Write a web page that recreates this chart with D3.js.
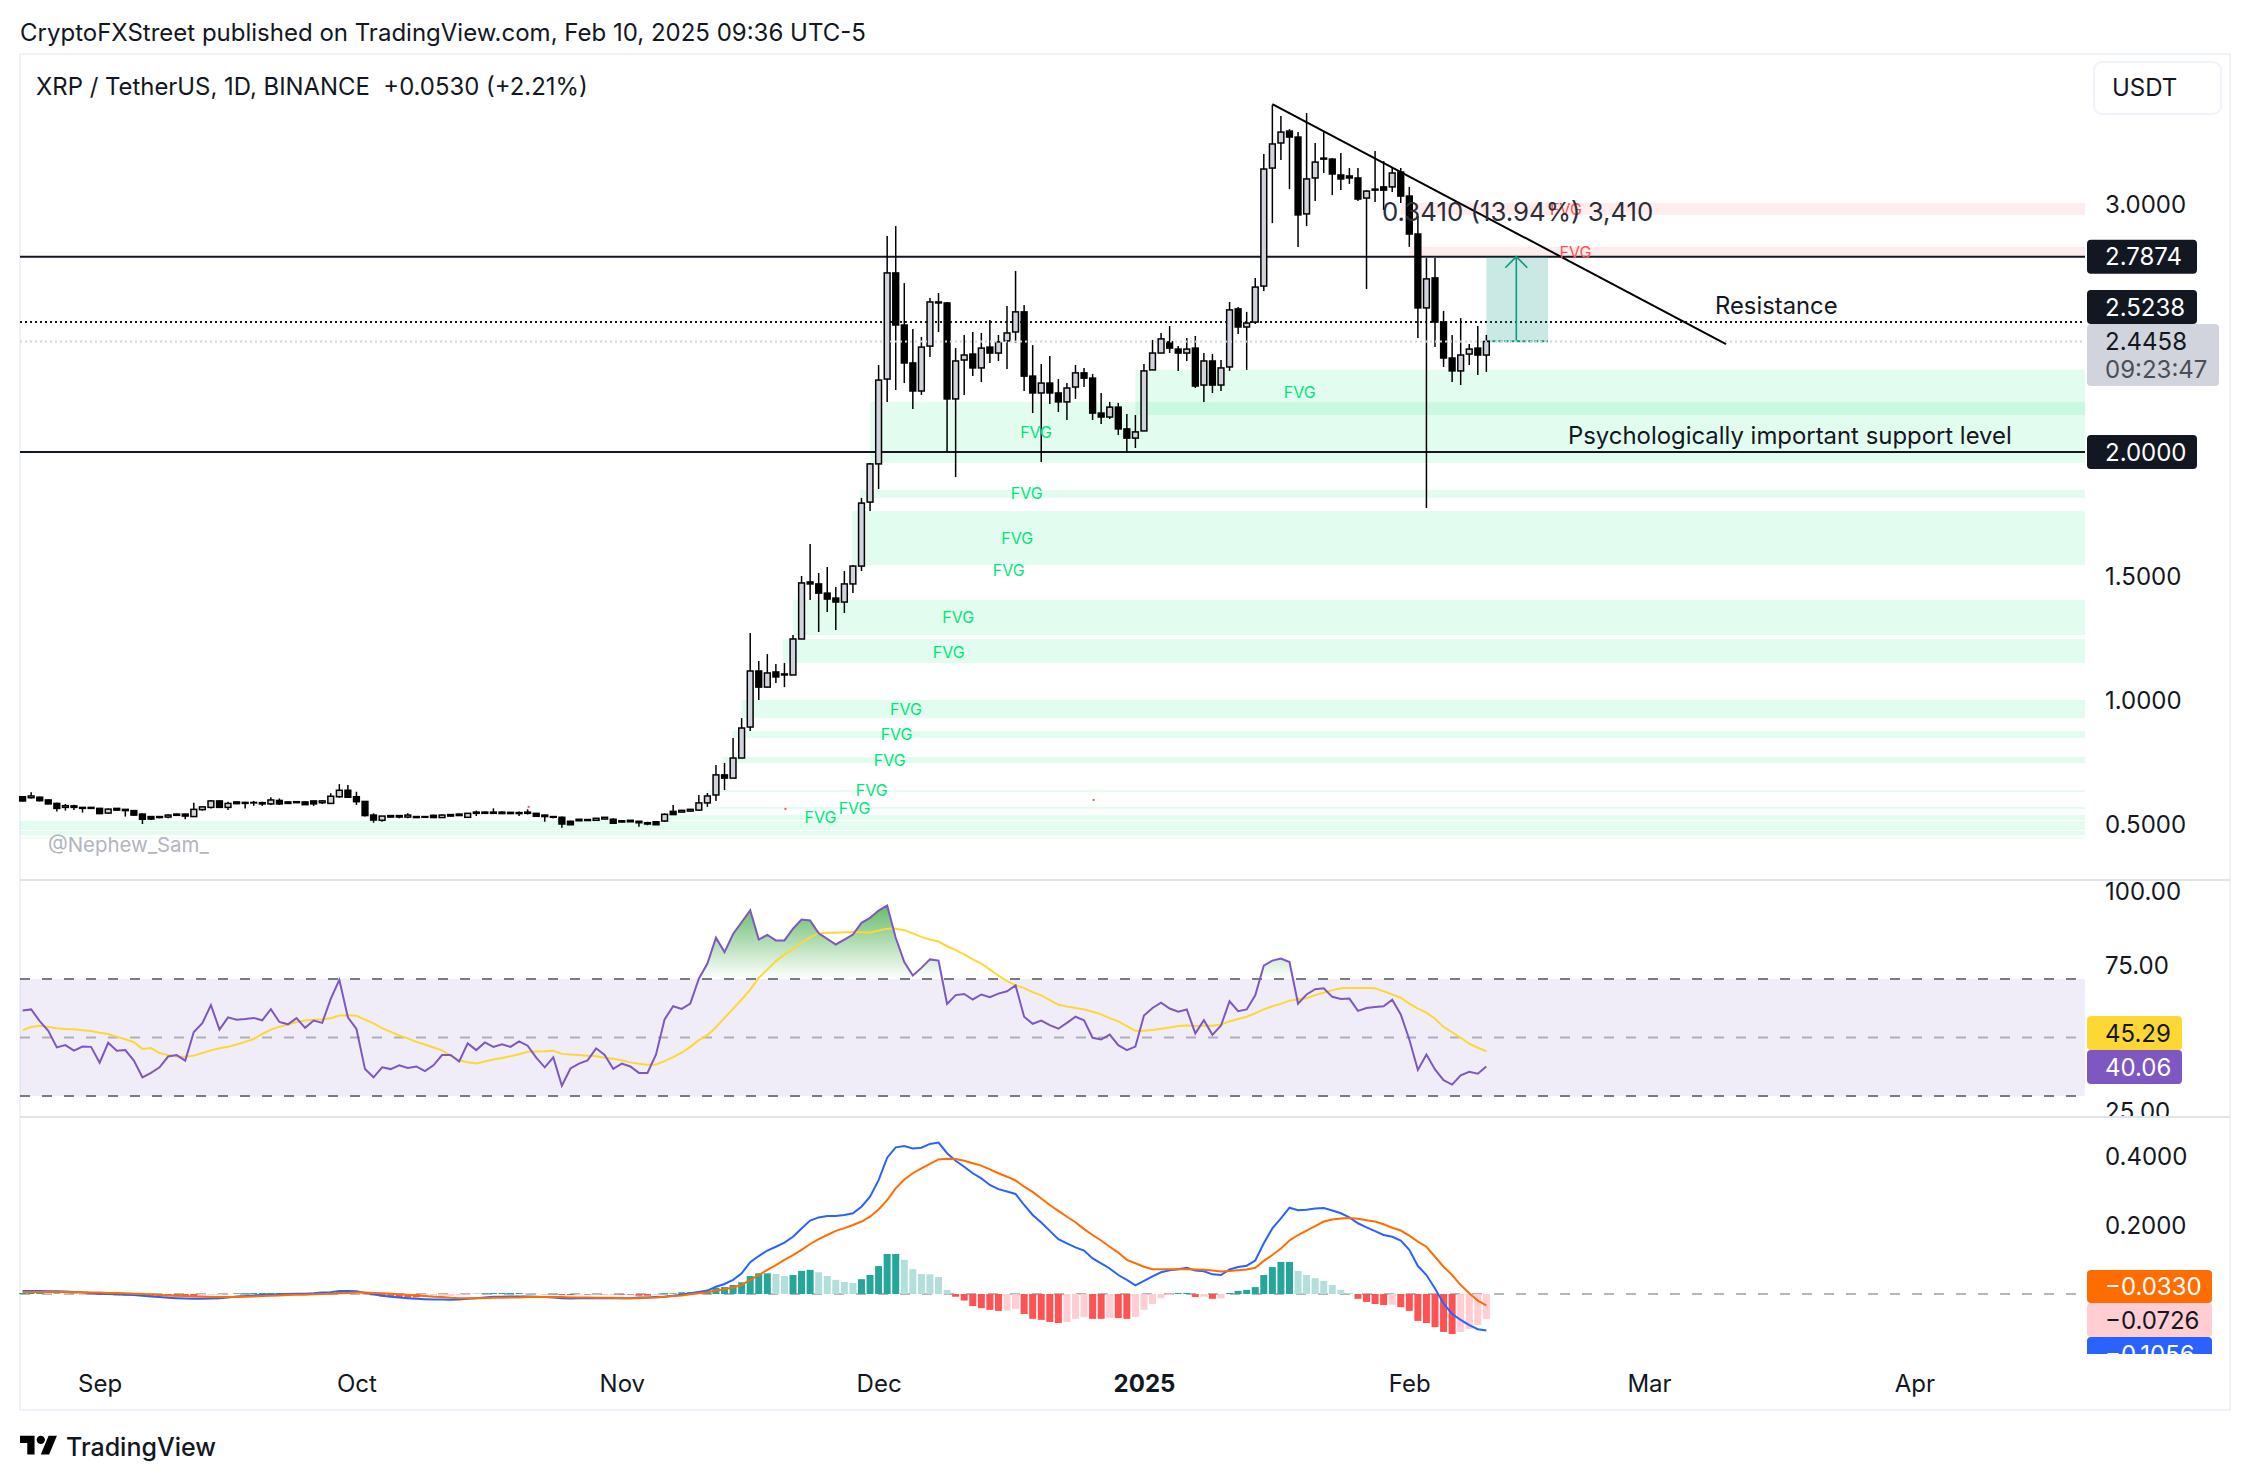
<!DOCTYPE html>
<html>
<head>
<meta charset="utf-8">
<script src="https://cdn.jsdelivr.net/npm/d3@7"></script>
<style>
  html, body { margin: 0; padding: 0; background: #fff; }
  svg { display: block; }
  text { font-family: Inter, "Noto Sans", sans-serif; }
</style>
</head>
<body>
<svg id="chart" width="2250" height="1480"></svg>
<script>
// daily candles, 23 Aug 2024 to 10 Feb 2025
const firstDay = new Date(Date.UTC(2024, 7, 23));
const opens = [
  .610,.606,.608,.597,.583,.567,.573,.567,.563,.563,
  .544,.563,.559,.554,.540,.530,.526,.528,.540,.540,
  .530,.558,.567,.593,.567,.589,.587,.585,.586,.581,
  .595,.589,.586,.589,.593,.586,.583,.610,.636,.610,
  .591,.536,.515,.528,.534,.528,.530,.527,.535,.526,
  .532,.540,.527,.543,.548,.543,.548,.547,.542,.543,
  .543,.536,.530,.527,.511,.513,.514,.515,.520,.519,
  .508,.515,.511,.505,.509,.512,.551,.548,.552,.556,
  .585,.617,.698,.685,.766,.891,1.117,1.052,1.113,1.105,
  1.101,1.246,1.476,1.468,1.431,1.411,1.395,1.468,1.540,1.798,
  1.952,2.294,2.722,2.512,2.359,2.246,2.427,2.605,2.601,2.214,
  2.371,2.395,2.339,2.423,2.399,2.448,2.484,2.565,2.306,2.238,
  2.278,2.238,2.202,2.262,2.319,2.298,2.157,2.141,2.181,2.093,
  2.056,2.085,2.331,2.399,2.444,2.415,2.399,2.419,2.270,2.367,
  2.270,2.343,2.577,2.504,2.524,2.669,3.145,3.246,3.294,3.270,
  2.960,3.105,3.181,3.181,3.117,3.113,3.105,3.024,3.056,3.069,
  3.069,3.129,3.032,2.879,2.581,2.702,2.524,2.379,2.327,2.395,2.419,2.391
];
const closes = [
  .593,.613,.594,.581,.563,.574,.567,.563,.567,.542,
  .560,.556,.554,.536,.519,.520,.530,.536,.535,.532,
  .559,.569,.593,.567,.583,.582,.583,.587,.581,.597,
  .581,.583,.590,.578,.581,.593,.612,.636,.608,.590,
  .534,.516,.532,.534,.528,.536,.526,.530,.526,.536,
  .538,.534,.543,.548,.543,.548,.542,.542,.546,.548,
  .531,.530,.527,.500,.497,.519,.518,.523,.527,.503,
  .513,.509,.505,.500,.497,.539,.538,.555,.559,.585,
  .613,.698,.685,.766,.887,1.117,1.052,1.109,1.093,1.101,
  1.246,1.472,1.468,1.431,1.407,1.395,1.468,1.540,1.794,1.952,
  2.290,2.722,2.512,2.359,2.246,2.423,2.605,2.601,2.214,2.367,
  2.391,2.339,2.419,2.399,2.444,2.480,2.565,2.306,2.238,2.278,
  2.238,2.202,2.258,2.319,2.298,2.157,2.141,2.181,2.093,2.056,
  2.081,2.327,2.399,2.456,2.419,2.399,2.415,2.266,2.367,2.270,
  2.339,2.573,2.504,2.520,2.665,3.141,3.242,3.290,3.270,2.956,
  3.101,3.169,3.185,3.121,3.101,3.105,3.020,3.052,3.060,3.056,
  3.125,3.032,2.879,2.581,2.698,2.524,2.379,2.327,2.391,2.415,2.391,2.4458
];
const highs = [
  .613,.628,.610,.599,.586,.581,.578,.567,.567,.565,
  .562,.565,.560,.556,.543,.532,.531,.539,.542,.541,
  .586,.570,.597,.595,.590,.591,.590,.593,.590,.608,
  .603,.591,.591,.591,.594,.597,.624,.661,.657,.630,
  .593,.543,.532,.536,.536,.543,.531,.531,.537,.538,
  .539,.542,.544,.554,.550,.563,.550,.548,.550,.559,
  .544,.537,.532,.530,.513,.520,.520,.524,.528,.523,
  .515,.516,.512,.509,.510,.543,.577,.557,.561,.617,
  .625,.738,.746,.847,.927,1.270,1.157,1.185,1.145,1.149,
  1.262,1.500,1.629,1.512,1.536,1.456,1.520,1.544,1.815,1.956,
  2.351,2.871,2.911,2.681,2.496,2.464,2.621,2.641,2.605,2.419,
  2.472,2.484,2.480,2.532,2.472,2.589,2.730,2.593,2.431,2.355,
  2.387,2.294,2.278,2.351,2.339,2.315,2.238,2.202,2.198,2.153,
  2.149,2.355,2.452,2.480,2.508,2.427,2.460,2.468,2.399,2.395,
  2.371,2.605,2.585,2.565,2.702,3.202,3.399,3.355,3.302,3.290,
  3.367,3.246,3.290,3.185,3.206,3.145,3.145,3.056,3.214,3.173,
  3.149,3.145,3.069,2.952,2.782,2.782,2.569,2.472,2.540,2.435,2.508,2.472
];
const lows = [
  .590,.603,.591,.579,.550,.554,.556,.546,.561,.540,
  .542,.554,.530,.532,.500,.516,.523,.523,.533,.519,
  .528,.554,.563,.565,.556,.580,.563,.573,.573,.577,
  .577,.581,.585,.577,.573,.581,.581,.606,.605,.577,
  .530,.505,.509,.526,.523,.523,.524,.525,.524,.524,
  .531,.532,.526,.532,.542,.540,.540,.540,.532,.538,
  .530,.509,.523,.485,.496,.512,.512,.513,.519,.500,
  .507,.508,.489,.495,.496,.508,.536,.547,.550,.552,
  .569,.593,.637,.685,.766,.875,1.000,1.052,1.069,1.052,
  1.101,1.246,1.403,1.274,1.355,1.282,1.351,1.431,1.520,1.762,
  1.851,2.202,2.250,2.278,2.173,2.230,2.383,2.484,2.000,1.899,
  2.230,2.306,2.282,2.359,2.367,2.335,2.440,2.246,2.157,1.960,
  2.194,2.161,2.129,2.214,2.262,2.129,2.113,2.133,2.069,1.996,
  2.016,2.085,2.331,2.399,2.399,2.327,2.367,2.258,2.202,2.238,
  2.246,2.327,2.476,2.331,2.516,2.649,2.923,3.177,3.060,2.827,
  2.911,3.012,3.125,3.036,3.056,3.081,3.012,2.657,3.008,2.976,
  3.048,3.004,2.827,2.460,1.774,2.423,2.343,2.282,2.270,2.351,2.310,2.323
];

// RSI and its moving average
const rsi = [
  59.2,59.6,55.6,52.3,46.6,47.4,45.5,46.9,46.8,41.4,
  48.2,45.5,45.7,42.1,36.4,37.9,39.8,43.5,44.0,42.1,
  51.9,54.9,61.1,52.7,56.9,56.1,56.3,56.7,55.9,59.7,
  55.3,54.5,56.6,53.3,55.8,55.0,63.2,69.7,56.9,52.9,
  39.2,36.4,39.8,39.2,40.5,39.6,40.1,38.5,40.5,44.0,
  44.0,41.8,48.0,45.7,48.3,46.8,47.7,46.8,48.7,47.2,
  43.1,39.8,43.2,33.5,39.4,41.1,42.2,46.3,44.0,39.3,
  41.1,40.1,37.9,37.9,44.2,56.2,60.7,59.8,61.6,70.1,
  75.3,84.1,79.2,85.4,89.4,93.5,83.5,85.1,83.2,83.2,
  87.2,90.3,90.0,85.6,83.7,81.8,83.5,85.2,89.2,90.9,
  93.4,95.1,84.1,75.8,71.2,73.8,76.7,76.3,61.5,64.5,
  64.9,63.0,64.7,63.8,65.0,65.8,67.8,57.1,54.7,55.8,
  54.2,53.0,55.0,57.1,55.9,49.9,49.3,51.0,47.4,45.7,
  46.9,57.5,60.1,61.9,59.9,58.8,59.6,51.4,55.9,50.9,
  54.1,62.4,59.0,59.6,64.4,74.6,76.3,77.0,75.8,61.6,
  64.7,66.5,66.8,63.9,63.2,63.3,59.1,60.1,60.4,60.7,
  62.9,57.9,49.3,38.9,44.2,39.1,35.4,33.9,37.1,38.3,37.6,40.06
];
const rsiMa = [
  52.5,53.6,54.0,53.6,53.2,52.9,52.8,52.5,52.2,51.6,
  51.2,50.3,49.4,48.4,46.1,46.4,44.7,44.0,43.5,43.4,
  43.8,44.7,45.6,46.3,46.8,47.6,48.5,49.5,51.2,52.7,
  53.7,54.4,55.3,55.8,56.1,56.2,56.6,57.5,57.6,57.4,
  56.1,54.8,53.2,51.9,50.7,49.7,48.5,47.6,46.6,45.6,
  43.8,42.2,41.5,41.1,41.8,42.5,43.0,43.6,44.3,45.1,
  45.2,45.3,45.5,44.4,44.2,44.0,43.8,43.6,43.1,42.7,
  42.2,41.5,41.0,40.7,40.8,41.9,43.3,44.8,46.8,49.1,
  50.8,53.5,56.7,59.8,63.0,66.4,70.4,73.2,76.1,78.4,
  80.3,82.4,84.3,85.6,85.8,85.8,86.0,86.1,86.0,85.8,
  86.6,87.2,87.2,86.7,85.6,84.4,83.5,82.8,81.2,79.9,
  78.4,76.7,75.3,73.2,71.2,69.3,67.9,66.9,65.5,64.4,
  62.8,61.2,60.6,60.1,59.6,58.8,57.9,56.6,55.5,53.9,
  52.3,52.3,52.6,53.0,53.4,53.9,54.1,53.9,54.0,54.0,
  54.4,55.5,56.3,57.1,58.3,59.6,60.7,61.5,62.6,63.1,
  63.4,64.5,65.3,66.2,66.8,66.9,66.9,66.9,66.8,65.8,
  64.7,63.6,61.6,59.9,58.5,56.4,53.6,51.8,49.9,47.9,46.5,45.29
];

// MACD line, signal line, histogram
const macdLine = [
  .009,.009,.009,.008,.008,.007,.006,.004,.003,.001,
  .000,-.001,-.002,-.003,-.005,-.007,-.009,-.011,-.012,-.013,
  -.014,-.014,-.013,-.012,-.010,-.007,-.006,-.004,-.003,-.002,
  -.001,.000,.001,.001,.002,.004,.005,.009,.009,.008,
  .003,-.001,-.005,-.008,-.010,-.012,-.014,-.015,-.016,-.016,
  -.017,-.016,-.014,-.012,-.010,-.008,-.008,-.007,-.007,-.007,
  -.008,-.009,-.010,-.012,-.013,-.012,-.012,-.012,-.012,-.012,
  -.012,-.012,-.010,-.010,-.009,-.008,-.005,-.002,.002,.006,
  .010,.021,.029,.041,.060,.092,.110,.126,.137,.149,
  .166,.190,.213,.222,.226,.226,.229,.234,.253,.282,
  .330,.395,.425,.429,.422,.424,.435,.439,.408,.386,
  .369,.350,.335,.316,.304,.297,.290,.258,.229,.207,
  .183,.159,.147,.135,.126,.103,.089,.074,.055,.041,
  .025,.038,.051,.063,.069,.072,.076,.068,.066,.057,
  .055,.071,.078,.082,.097,.147,.190,.219,.250,.243,
  .244,.248,.249,.242,.234,.222,.205,.193,.182,.171,
  .166,.155,.128,.081,.055,.016,-.027,-.058,-.075,-.090,-.102,-.1056
];
const macdSignal = [
  .006,.006,.006,.006,.006,.006,.005,.005,.004,.004,
  .003,.003,.002,.001,.000,-.001,-.003,-.004,-.005,-.006,
  -.007,-.008,-.009,-.009,-.009,-.009,-.008,-.007,-.006,-.005,
  -.004,-.003,-.002,-.002,-.001,.000,.001,.002,.003,.004,
  .004,.003,.002,.001,-.001,-.002,-.004,-.006,-.008,-.009,
  -.011,-.012,-.012,-.012,-.012,-.011,-.011,-.010,-.010,-.009,
  -.009,-.009,-.009,-.009,-.010,-.010,-.010,-.011,-.011,-.011,
  -.012,-.012,-.012,-.011,-.010,-.008,-.006,-.004,-.001,.002,
  .005,.010,.014,.019,.026,.041,.055,.070,.084,.099,
  .113,.128,.145,.159,.171,.183,.191,.200,.210,.224,
  .245,.272,.306,.332,.350,.364,.377,.390,.392,.391,
  .386,.379,.372,.361,.350,.340,.329,.311,.296,.277,
  .258,.241,.224,.208,.188,.171,.155,.137,.120,.099,
  .089,.079,.072,.072,.072,.072,.072,.071,.070,.068,
  .065,.067,.069,.071,.076,.096,.113,.132,.155,.171,
  .184,.197,.210,.216,.219,.220,.218,.214,.210,.202,
  .192,.184,.169,.152,.137,.108,.079,.055,.026,.002,-.019,-.033
];
const macdHist = [
  .003,.003,.003,.002,.002,.001,.001,-.001,-.001,-.003,
  -.003,-.004,-.004,-.004,-.005,-.006,-.006,-.007,-.007,-.007,
  -.007,-.006,-.004,-.003,-.001,.002,.002,.003,.003,.003,
  .003,.003,.003,.003,.003,.004,.004,.007,.006,.004,
  -.001,-.004,-.007,-.009,-.009,-.010,-.010,-.009,-.008,-.007,
  -.006,-.004,-.002,.001,.002,.003,.003,.003,.003,.002,
  .001,-.001,-.001,-.003,-.003,-.002,-.002,-.001,-.001,-.001,
  -.002,-.002,-.005,-.005,-.003,.002,.002,.005,.005,.007,
  .010,.018,.020,.026,.034,.052,.060,.060,.058,.052,
  .055,.067,.070,.063,.052,.041,.035,.032,.043,.055,
  .081,.116,.116,.099,.072,.058,.057,.049,.012,-.008,
  -.019,-.035,-.041,-.046,-.049,-.048,-.043,-.058,-.072,-.075,
  -.081,-.084,-.081,-.072,-.067,-.072,-.072,-.070,-.070,-.072,
  -.067,-.046,-.029,-.012,-.003,.003,.003,-.009,-.008,-.014,
  -.013,.003,.009,.012,.020,.055,.078,.093,.093,.067,
  .055,.046,.038,.026,.012,.003,-.014,-.023,-.029,-.032,
  -.031,-.038,-.049,-.078,-.084,-.096,-.110,-.116,-.110,-.101,-.090,-.0726
];

// axis ticks
const monthTicks = [[2024,8],[2024,9],[2024,10],[2024,11],[2025,0],[2025,1],[2025,2],[2025,3]];
const monthLabels = ["Sep", "Oct", "Nov", "Dec", "2025", "Feb", "Mar", "Apr"];
const priceTicks = [3, 1.5, 1, 0.5];
const rsiTicks = [100, 75, 25];
const macdTicks = [0.4, 0.2];

// horizontal levels
const solidLevels = [2.7874, 2];
const dottedLevel = 2.5238;
const lastPrice = 2.4458;

// fair value gaps: [first bar, top price, bottom price]
const greenGaps = [
  [99, 2.202, 1.956], [130, 2.331, 2.149], [97.8, 1.847, 1.815], [96.9, 1.762, 1.544],
  [90, 1.403, 1.262], [88.8, 1.246, 1.149], [84, 1.000, .927], [82.9, .875, .847],
  [81.8, .770, .746], [79.8, .637, .629], [78.5, .569, .560], [75.3, .536, .516],
  [-0.3, .512, .476], [-0.3, .472, .456], [-0.3, .444, .440]
];
const redGaps = [[161, 3.004, 2.956], [162, 2.827, 2.786]];
// gap labels: [bar, price]
const greenGapLabels = [
  [118.4, 2.081], [149.2, 2.242], [117.3, 1.835], [116.2, 1.653], [115.2, 1.524],
  [109.3, 1.335], [108.2, 1.194], [103.2, .964], [102.1, .863], [101.3, .758],
  [99.2, .637], [97.2, .565], [93.2, .528]
];
const redGapLabels = [[180.3, 2.980], [181.4, 2.806]];
const redSpecks = [[59, .573], [89, .565], [125, .601]];

// drawings
const trendLine = [[146, 3.403], [199, 2.435]];
const measureBars = [171, 178.2];
const measureArrowBar = 174.5;
const measurePrices = [2.4464, 2.7874];

const svg = d3.select("#chart");
const INK = "#131722";
const PANE_LEFT = 20, PANE_RIGHT = 2085, FRAME_RIGHT = 2230;
const AXIS_LEFT = 2087, AXIS_TEXT = 2105;

const dayMs = 86400000;
const dates = opens.map((d, i) => d3.utcDay.offset(firstDay, i));
const x = d3.scaleUtc()
  .domain([firstDay, d3.utcDay.offset(firstDay, 221)])
  .range([22.6, 22.6 + 8.56 * 221]);
const xBar = bar => x(new Date(+firstDay + bar * dayMs));

const y = d3.scaleLinear().domain([2, 3]).range([452, 204]);
const yRsi = d3.scaleLinear().domain([30, 70]).range([1096, 979]);
const yMacd = d3.scaleLinear().domain([0, 0.2]).range([1294, 1225]);

const defs = svg.append("defs");
// this one sits on the translated axis group, so x starts at 0
defs.append("clipPath").attr("id", "rsi-axis-clip").append("rect")
  .attr("x", 0).attr("y", 882).attr("width", 140).attr("height", 234);
defs.append("clipPath").attr("id", "macd-tag-clip").append("rect")
  .attr("x", AXIS_LEFT).attr("y", 1119).attr("width", 140).attr("height", 235);
defs.append("clipPath").attr("id", "over-70").append("rect")
  .attr("x", PANE_LEFT).attr("y", 882).attr("width", PANE_RIGHT - PANE_LEFT).attr("height", yRsi(70) - 882);
const grad = defs.append("linearGradient").attr("id", "rsi-over")
  .attr("gradientUnits", "userSpaceOnUse")
  .attr("x1", 0).attr("x2", 0).attr("y1", yRsi(95)).attr("y2", yRsi(70));
grad.append("stop").attr("offset", 0).attr("stop-color", "#4caf50").attr("stop-opacity", 0.85);
grad.append("stop").attr("offset", 1).attr("stop-color", "#4caf50").attr("stop-opacity", 0);

// publisher line
svg.append("text").attr("x", 20).attr("y", 32).attr("dy", "0.36em")
  .attr("font-size", 24).attr("fill", INK)
  .text("CryptoFXStreet published on TradingView.com, Feb 10, 2025 09:36 UTC-5");

// frame and pane separators
svg.append("rect").attr("x", 20).attr("y", 54).attr("width", FRAME_RIGHT - 20).attr("height", 1356)
  .attr("fill", "#fff").attr("stroke", "#f0f3fa").attr("stroke-width", 2);
svg.selectAll(".sep").data([880, 1117]).join("line").attr("class", "sep")
  .attr("x1", 20).attr("x2", FRAME_RIGHT).attr("y1", d => d).attr("y2", d => d)
  .attr("stroke", "#e0e3eb").attr("stroke-width", 2);

// fair value gap boxes
function gaps(rows, color) {
  svg.append("g").selectAll("rect").data(rows).join("rect")
    .attr("x", d => Math.max(PANE_LEFT, xBar(d[0])))
    .attr("width", d => PANE_RIGHT - Math.max(PANE_LEFT, xBar(d[0])))
    .attr("y", d => y(d[1]))
    .attr("height", d => y(d[2]) - y(d[1]))
    .attr("fill", color).attr("fill-opacity", 0.11);
}
gaps(greenGaps, "#00e676");
gaps(redGaps, "#ff5252");

// levels
svg.append("g").selectAll("line").data(solidLevels).join("line")
  .attr("x1", PANE_LEFT).attr("x2", PANE_RIGHT)
  .attr("y1", d => y(d)).attr("y2", d => y(d))
  .attr("stroke", INK).attr("stroke-width", 2);
svg.append("line").attr("x1", PANE_LEFT).attr("x2", PANE_RIGHT)
  .attr("y1", y(dottedLevel)).attr("y2", y(dottedLevel))
  .attr("stroke", INK).attr("stroke-width", 2).attr("stroke-dasharray", "2 3");

// measure box
const boxX0 = xBar(measureBars[0]), boxX1 = xBar(measureBars[1]);
svg.append("rect").attr("x", boxX0).attr("width", boxX1 - boxX0)
  .attr("y", y(measurePrices[1])).attr("height", y(measurePrices[0]) - y(measurePrices[1]))
  .attr("fill", "#089981").attr("fill-opacity", 0.21);
svg.append("line").attr("x1", boxX0).attr("x2", boxX1)
  .attr("y1", y(measurePrices[0])).attr("y2", y(measurePrices[0]))
  .attr("stroke", "#089981").attr("stroke-width", 2).attr("stroke-dasharray", "4 2");
const arrowX = xBar(measureArrowBar);
svg.append("path")
  .attr("d", d3.line()([[arrowX, y(measurePrices[0])], [arrowX, y(measurePrices[1])]]) +
    d3.line()([[arrowX - 11, y(measurePrices[1]) + 11], [arrowX, y(measurePrices[1])], [arrowX + 11, y(measurePrices[1]) + 11]]))
  .attr("fill", "none").attr("stroke", "#089981").attr("stroke-width", 1.6);

// candles
const candles = svg.append("g").selectAll("g").data(dates).join("g");
candles.append("line")
  .attr("x1", d => x(d)).attr("x2", d => x(d))
  .attr("y1", (d, i) => y(highs[i])).attr("y2", (d, i) => y(lows[i]))
  .attr("stroke", "#000").attr("stroke-width", 1.5);
candles.append("rect")
  .attr("x", d => x(d) - 2.9).attr("width", 5.8)
  .attr("y", (d, i) => y(Math.max(opens[i], closes[i])))
  .attr("height", (d, i) => Math.abs(y(opens[i]) - y(closes[i])))
  .attr("fill", (d, i) => closes[i] >= opens[i] ? "#d1d4dc" : "#000")
  .attr("stroke", "#000").attr("stroke-width", 1.5);

svg.append("g").selectAll("rect").data(redSpecks).join("rect")
  .attr("x", d => xBar(d[0])).attr("y", d => y(d[1])).attr("width", 2).attr("height", 2)
  .attr("fill", "#ff5252");

// last price line
svg.append("line").attr("x1", PANE_LEFT).attr("x2", PANE_RIGHT)
  .attr("y1", y(lastPrice)).attr("y2", y(lastPrice))
  .attr("stroke", "#d1d4dc").attr("stroke-width", 2).attr("stroke-dasharray", "2 3");

// trend line
svg.append("line")
  .attr("x1", xBar(trendLine[0][0])).attr("y1", y(trendLine[0][1]))
  .attr("x2", xBar(trendLine[1][0])).attr("y2", y(trendLine[1][1]))
  .attr("stroke", "#000").attr("stroke-width", 2);

// FVG labels
function gapLabels(rows, color) {
  svg.append("g").selectAll("text").data(rows).join("text")
    .attr("x", d => xBar(d[0])).attr("y", d => y(d[1])).attr("dy", "0.36em")
    .attr("text-anchor", "middle").attr("font-size", 16).attr("fill", color)
    .text("FVG");
}
gapLabels(greenGapLabels, "#00e676");
gapLabels(redGapLabels, "#ff5252");

// chart notes
svg.append("text").attr("x", 36).attr("y", 86).attr("dy", "0.36em").attr("font-size", 23.9).attr("fill", INK)
  .attr("xml:space", "preserve").text("XRP / TetherUS, 1D, BINANCE  +0.0530 (+2.21%)");
svg.append("text").attr("x", 1382).attr("y", 212).attr("dy", "0.36em").attr("font-size", 25.8).attr("fill", "#2a2e39")
  .text("0.3410 (13.94%) 3,410");
svg.append("text").attr("x", 1715).attr("y", 305).attr("dy", "0.36em").attr("font-size", 23.8).attr("fill", INK)
  .text("Resistance");
svg.append("text").attr("x", 1568).attr("y", 435).attr("dy", "0.36em").attr("font-size", 23.9).attr("fill", INK)
  .text("Psychologically important support level");
svg.append("text").attr("x", 48).attr("y", 845).attr("dy", "0.36em").attr("font-size", 20.4).attr("fill", "#b2b5be")
  .text("@Nephew_Sam_");

// USDT button
svg.append("rect").attr("x", 2094).attr("y", 62).attr("width", 127).attr("height", 52).attr("rx", 8)
  .attr("fill", "#fff").attr("stroke", "#f0f3fa").attr("stroke-width", 2);
svg.append("text").attr("x", 2112).attr("y", 87).attr("dy", "0.36em").attr("font-size", 24).attr("fill", INK).text("USDT");

// RSI pane
svg.append("rect").attr("x", PANE_LEFT).attr("width", PANE_RIGHT - PANE_LEFT)
  .attr("y", yRsi(70)).attr("height", yRsi(30) - yRsi(70))
  .attr("fill", "#7e57c2").attr("fill-opacity", 0.11);
svg.append("g").selectAll("line").data([70, 50, 30]).join("line")
  .attr("x1", PANE_LEFT).attr("x2", PANE_RIGHT)
  .attr("y1", d => yRsi(d)).attr("y2", d => yRsi(d))
  .attr("stroke", "#787b86").attr("stroke-opacity", d => d === 50 ? 0.55 : 1)
  .attr("stroke-width", 2).attr("stroke-dasharray", "10 12");
svg.append("path").datum(rsi)
  .attr("clip-path", "url(#over-70)")
  .attr("d", d3.area().x((d, i) => x(dates[i])).y0(yRsi(70)).y1(d => yRsi(d)))
  .attr("fill", "url(#rsi-over)");
svg.append("path").datum(rsiMa)
  .attr("d", d3.line().x((d, i) => x(dates[i])).y(d => yRsi(d)))
  .attr("fill", "none").attr("stroke", "#fdd835").attr("stroke-width", 2);
svg.append("path").datum(rsi)
  .attr("d", d3.line().x((d, i) => x(dates[i])).y(d => yRsi(d)))
  .attr("fill", "none").attr("stroke", "#7e57c2").attr("stroke-width", 2);

// MACD pane
svg.append("line").attr("x1", PANE_LEFT).attr("x2", PANE_RIGHT)
  .attr("y1", yMacd(0)).attr("y2", yMacd(0))
  .attr("stroke", "#787b86").attr("stroke-opacity", 0.55)
  .attr("stroke-width", 2).attr("stroke-dasharray", "10 12");
function histColor(v, i) {
  const prev = i > 0 ? macdHist[i - 1] : v;
  if (v >= 0) return v >= prev ? "#26a69a" : "#b2dfdb";
  return v > prev ? "#ffcdd2" : "#ff5252";
}
svg.append("g").selectAll("rect").data(macdHist).join("rect")
  .attr("x", (d, i) => x(dates[i]) - 3.5).attr("width", 7)
  .attr("y", d => Math.min(yMacd(d), yMacd(0)))
  .attr("height", d => Math.abs(yMacd(d) - yMacd(0)))
  .attr("fill", histColor);
svg.append("path").datum(macdLine)
  .attr("d", d3.line().x((d, i) => x(dates[i])).y(d => yMacd(d)))
  .attr("fill", "none").attr("stroke", "#2962ff").attr("stroke-width", 2);
svg.append("path").datum(macdSignal)
  .attr("d", d3.line().x((d, i) => x(dates[i])).y(d => yMacd(d)))
  .attr("fill", "none").attr("stroke", "#ff6d00").attr("stroke-width", 2);

// axes
function styleAxis(g) {
  g.select(".domain").remove();
  g.selectAll("text").attr("font-size", 24).attr("fill", INK).attr("dy", "0.36em")
    .style("font-family", "Inter, 'Noto Sans', sans-serif");
}
function rightAxis(scale, ticks, digits) {
  return d3.axisRight(scale).tickValues(ticks).tickFormat(d => d.toFixed(digits))
    .tickSize(0).tickPadding(AXIS_TEXT - AXIS_LEFT);
}
svg.append("g").attr("transform", `translate(${AXIS_LEFT},0)`)
  .call(rightAxis(y, priceTicks, 4)).call(styleAxis);
svg.append("g").attr("transform", `translate(${AXIS_LEFT},0)`)
  .attr("clip-path", "url(#rsi-axis-clip)")
  .call(rightAxis(yRsi, rsiTicks, 2)).call(styleAxis);
svg.append("g").attr("transform", `translate(${AXIS_LEFT},0)`)
  .call(rightAxis(yMacd, macdTicks, 4)).call(styleAxis);
const monthDates = monthTicks.map(d => new Date(Date.UTC(d[0], d[1], 1)));
svg.append("g").attr("transform", "translate(0,1383)")
  .call(d3.axisBottom(x).tickValues(monthDates).tickFormat((d, i) => monthLabels[i]).tickSize(0).tickPadding(0))
  .call(styleAxis)
  .selectAll("text").attr("font-weight", (d, i) => monthLabels[i] === "2025" ? 700 : 400);

// price tags
function tag(g, top, bottom, right, fill, color, label, textY) {
  g.append("rect").attr("x", AXIS_LEFT).attr("y", top).attr("width", right - AXIS_LEFT).attr("height", bottom - top)
    .attr("rx", 4).attr("fill", fill);
  g.append("text").attr("x", AXIS_TEXT).attr("y", textY === undefined ? (top + bottom) / 2 : textY)
    .attr("dy", "0.36em").attr("font-size", 24).attr("fill", color).text(label);
}
const tags = svg.append("g");
tag(tags, y(2.7874) - 17, y(2.7874) + 17, 2197, INK, "#fff", d3.format(".4f")(2.7874));
tag(tags, y(2.5238) - 32, y(2.5238) + 2, 2197, INK, "#fff", d3.format(".4f")(2.5238), y(2.5238) - 15);
tag(tags, y(2) - 17, y(2) + 17, 2197, INK, "#fff", d3.format(".4f")(2));
tag(tags, 324, 386, 2219, "#d1d4dc", INK, d3.format(".4f")(lastPrice), y(lastPrice));
tags.append("text").attr("x", AXIS_TEXT).attr("y", 369).attr("dy", "0.36em").attr("font-size", 24).attr("fill", "#4a4e59").text("09:23:47");

tag(tags, 1016, 1050, 2182, "#fdd835", INK, rsiMa[rsiMa.length - 1].toFixed(2));
tag(tags, 1050, 1084, 2182, "#7e57c2", "#fff", rsi[rsi.length - 1].toFixed(2));

const macdTags = svg.append("g").attr("clip-path", "url(#macd-tag-clip)");
const minusFmt = v => "\u2212" + Math.abs(v).toFixed(4);
tag(macdTags, 1270, 1303, 2212, "#ff6d00", "#fff", minusFmt(macdSignal[macdSignal.length - 1]));
tag(macdTags, 1303, 1337, 2212, "#ffcdd2", INK, minusFmt(macdHist[macdHist.length - 1]));
tag(macdTags, 1337, 1372, 2212, "#2962ff", "#fff", minusFmt(macdLine[macdLine.length - 1]));

// TradingView logo
const logo = svg.append("g").attr("transform", "translate(20,1431.5) scale(1.04)").attr("fill", "#000");
logo.append("path").attr("d", "M14 22H7V11H0V4h14v18zM28 22h-8l7.5-18h8L28 22z");
logo.append("circle").attr("cx", 20).attr("cy", 8).attr("r", 4);
svg.append("text").attr("x", 66).attr("y", 1447).attr("dy", "0.36em").attr("font-size", 25).attr("font-weight", 500).attr("fill", INK)
  .text("TradingView");
</script>
</body>
</html>
